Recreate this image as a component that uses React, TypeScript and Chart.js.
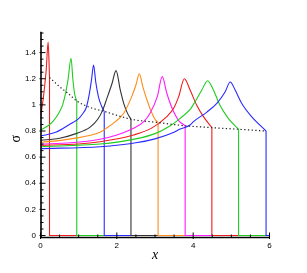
import React, { useEffect, useRef } from "react";
import { Chart, registerables } from "chart.js";

Chart.register(...registerables);

// ---- axis setup ----
const X_TITLE = "x";
const Y_TITLE = "σ";
const X_END = 6;
const X_TICKS = [0, 2, 4, 6];
const X_MINOR = [0.5, 1, 1.5, 2.5, 3, 3.5, 4.5, 5, 5.5];
const Y_TICKS = [0, 0.2, 0.4, 0.6, 0.8, 1, 1.2, 1.4];
const Y_MINOR = [
  0.05, 0.1, 0.15, 0.25, 0.3, 0.35, 0.45, 0.5, 0.55, 0.65, 0.7, 0.75,
  0.85, 0.9, 0.95, 1.05, 1.1, 1.15, 1.25, 1.3, 1.35, 1.45, 1.5, 1.55,
];

// ---- curves: smooth part up to the shoulder (x positions and sigma values) ----
const C1_X = [0, 0.05, 0.1, 0.15, 0.2, 0.236];
const C1_S = [0.91, 1.0, 1.12, 1.27, 1.48, 1.21];

const C2_X = [0, 0.2, 0.32, 0.41, 0.5, 0.58, 0.65, 0.72, 0.8, 0.85, 0.89, 0.95];
const C2_S = [0.808, 0.84, 0.871, 0.905, 0.948, 1.0, 1.08, 1.19, 1.357, 1.19, 1.09, 1.03];

const C3_X = [0, 0.4, 0.76, 1.0, 1.1, 1.2, 1.25, 1.3, 1.34, 1.39, 1.45, 1.52, 1.6, 1.67];
const C3_S = [0.762, 0.79, 0.85, 0.895, 0.93, 0.98, 1.04, 1.12, 1.2, 1.305, 1.17, 1.06, 0.99, 0.95];

const C4_X = [0, 0.5, 0.93, 1.3, 1.5, 1.63, 1.74, 1.87, 1.98, 2.09, 2.18, 2.28, 2.37];
const C4_S = [0.728, 0.745, 0.78, 0.83, 0.89, 0.96, 1.05, 1.16, 1.262, 1.114, 1.012, 0.935, 0.89];

const C5_X = [0, 0.8, 1.56, 1.72, 1.91, 2.18, 2.39, 2.5, 2.59, 2.68, 2.79, 2.92, 3.0, 3.08];
const C5_S = [0.712, 0.74, 0.79, 0.82, 0.86, 0.936, 1.063, 1.152, 1.237, 1.14, 1.037, 0.936, 0.89, 0.865];

const C6_X = [0, 0.8, 1.56, 2.0, 2.44, 2.7, 2.87, 3.06, 3.19, 3.31, 3.44, 3.62, 3.79];
const C6_S = [0.7, 0.71, 0.737, 0.77, 0.821, 0.87, 0.936, 1.063, 1.216, 1.089, 0.98, 0.88, 0.84];

const C7_X = [0, 1.0, 1.56, 2.44, 2.9, 3.31, 3.5, 3.62, 3.77, 3.92, 4.09, 4.27, 4.49];
const C7_S = [0.69, 0.7, 0.718, 0.77, 0.82, 0.91, 0.98, 1.063, 1.2, 1.114, 0.999, 0.91, 0.826];

const C8_X = [0, 1.56, 2.5, 3.0, 3.4, 3.66, 3.92, 4.0, 4.22, 4.38, 4.53, 4.7, 4.92, 5.19];
const C8_S = [0.68, 0.7, 0.74, 0.78, 0.84, 0.897, 0.965, 1.0, 1.11, 1.185, 1.114, 0.999, 0.897, 0.813];

const C9_X = [0, 1.56, 2.5, 3.0, 3.5, 3.66, 3.92, 4.0, 4.36, 4.62, 4.84, 4.97, 5.1, 5.27, 5.53, 5.91];
const C9_S = [0.665, 0.68, 0.71, 0.74, 0.79, 0.815, 0.846, 0.87, 0.945, 1.012, 1.101, 1.175, 1.114, 1.012, 0.91, 0.8];

// dotted envelope through the shoulders
const ENV_X = [0.236, 0.4, 0.6, 0.72, 0.95, 1.3, 1.67, 2.0, 2.37, 3.08, 3.79, 4.49, 5.2, 5.91];
const ENV_S = [1.21, 1.165, 1.115, 1.089, 1.03, 0.98, 0.95, 0.92, 0.89, 0.865, 0.84, 0.826, 0.813, 0.8];

const CURVES_X = [C1_X, C2_X, C3_X, C4_X, C5_X, C6_X, C7_X, C8_X, C9_X];
const CURVES_S = [C1_S, C2_S, C3_S, C4_S, C5_S, C6_S, C7_S, C8_S, C9_S];
const COLORS = ["#ee1c1c", "#1fcc1f", "#2a2aff", "#333333", "#ff8c1a", "#ff1aff", "#ee1c1c", "#1fcc1f", "#2a2aff"];

const toPts = (xs: number[], ys: number[]) => xs.map((x, i) => ({ x, y: ys[i] }));

const axesPlugin = {
  id: "tecAxes",
  afterDatasetsDraw(chart: any) {
    const { ctx, chartArea: a, scales } = chart;
    const xs = scales.x;
    const ys = scales.y;
    ctx.save();
    ctx.strokeStyle = "#000";
    ctx.lineWidth = 1;
    const seg = (x1: number, y1: number, x2: number, y2: number) => {
      ctx.beginPath();
      ctx.moveTo(x1, y1);
      ctx.lineTo(x2, y2);
      ctx.stroke();
    };
    Y_TICKS.forEach((v) => {
      const p = ys.getPixelForValue(v);
      seg(a.left - 1, p, a.left + 5, p);
    });
    Y_MINOR.forEach((v) => {
      const p = ys.getPixelForValue(v);
      seg(a.left, p, a.left + 3, p);
    });
    X_TICKS.forEach((v) => {
      const p = xs.getPixelForValue(v);
      seg(p, a.bottom + 1.5, p, a.bottom - 5);
    });
    X_MINOR.forEach((v) => {
      const p = xs.getPixelForValue(v);
      seg(p, a.bottom, p, a.bottom - 3);
    });
    ctx.lineWidth = 1.6;
    ctx.beginPath();
    ctx.moveTo(a.left + 0.5, a.top);
    ctx.lineTo(a.left + 0.5, a.bottom);
    ctx.lineTo(a.right, a.bottom);
    ctx.stroke();

    // y-axis title, rotated, beside the axis
    ctx.fillStyle = "#000";
    ctx.font = "14px 'Liberation Serif', 'Times New Roman', serif";
    ctx.textAlign = "center";
    ctx.textBaseline = "middle";
    ctx.translate(16, ys.getPixelForValue(0.74));
    ctx.rotate(-Math.PI / 2);
    ctx.fillText(Y_TITLE, 0, 0);
    ctx.restore();
  },
};

export default function App() {
  const ref = useRef<HTMLCanvasElement>(null);

  useEffect(() => {
    if (!ref.current) return;
    const datasets: any[] = [];
    CURVES_X.forEach((xs, i) => {
      const ss = CURVES_S[i];
      const lastX = xs[xs.length - 1];
      const lastS = ss[ss.length - 1];
      // smooth rise, peak and decay
      datasets.push({
        data: toPts(xs, ss),
        borderColor: COLORS[i],
        borderWidth: 1.1,
        pointRadius: 0,
        cubicInterpolationMode: "monotone",
        fill: false,
        order: -i,
      });
      // vertical drop to zero and the flat zero level
      datasets.push({
        data: [
          { x: lastX, y: lastS },
          { x: lastX, y: 0 },
          { x: X_END, y: 0 },
        ],
        borderColor: COLORS[i],
        borderWidth: 1.1,
        pointRadius: 0,
        tension: 0,
        fill: false,
        order: -i,
      });
    });
    datasets.push({
      data: toPts(ENV_X, ENV_S),
      borderColor: "#222",
      borderWidth: 1.2,
      borderDash: [1.3, 2.4],
      pointRadius: 0,
      cubicInterpolationMode: "monotone",
      fill: false,
      order: -100,
    });

    const tickFont = { family: "'Liberation Sans', Arial, sans-serif", size: 8 };
    const chart = new Chart(ref.current, {
      type: "line",
      data: { datasets },
      plugins: [axesPlugin],
      options: {
        animation: false,
        responsive: false,
        devicePixelRatio: 1,
        layout: { padding: { left: 0, right: 37.5, top: 31.7, bottom: 0 } },
        plugins: { legend: { display: false }, tooltip: { enabled: false } },
        scales: {
          x: {
            type: "linear",
            min: 0,
            max: 6,
            afterBuildTicks: (s: any) => {
              s.ticks = X_TICKS.map((v) => ({ value: v }));
            },
            afterFit: (s: any) => {
              s.height = 35.5;
            },
            grid: { display: false, drawTicks: false, tickLength: 0 },
            border: { display: false },
            ticks: {
              padding: 3.4,
              font: tickFont,
              color: "#000",
              maxRotation: 0,
              autoSkip: false,
              callback: (v: any) => String(v),
            },
            title: {
              display: true,
              text: X_TITLE,
              color: "#000",
              font: { family: "'Liberation Serif', 'Times New Roman', serif", size: 14, style: "italic" },
              padding: { top: 0, bottom: 9 },
            },
          },
          y: {
            type: "linear",
            min: -0.015,
            max: 1.56,
            afterBuildTicks: (s: any) => {
              s.ticks = Y_TICKS.map((v) => ({ value: v }));
            },
            afterFit: (s: any) => {
              s.width = 40.5;
            },
            grid: { display: false, drawTicks: false, tickLength: 0 },
            border: { display: false },
            ticks: {
              padding: 4.5,
              font: tickFont,
              color: "#000",
              autoSkip: false,
              callback: (v: any) => String(v),
            },
            title: { display: false, text: Y_TITLE },
          },
        },
      },
    } as any);
    return () => chart.destroy();
  }, []);

  return (
    <div style={{ position: "fixed", left: 0, top: 0, width: 307, height: 273, background: "#fff" }}>
      <canvas ref={ref} width={307} height={273} style={{ display: "block" }} />
    </div>
  );
}
